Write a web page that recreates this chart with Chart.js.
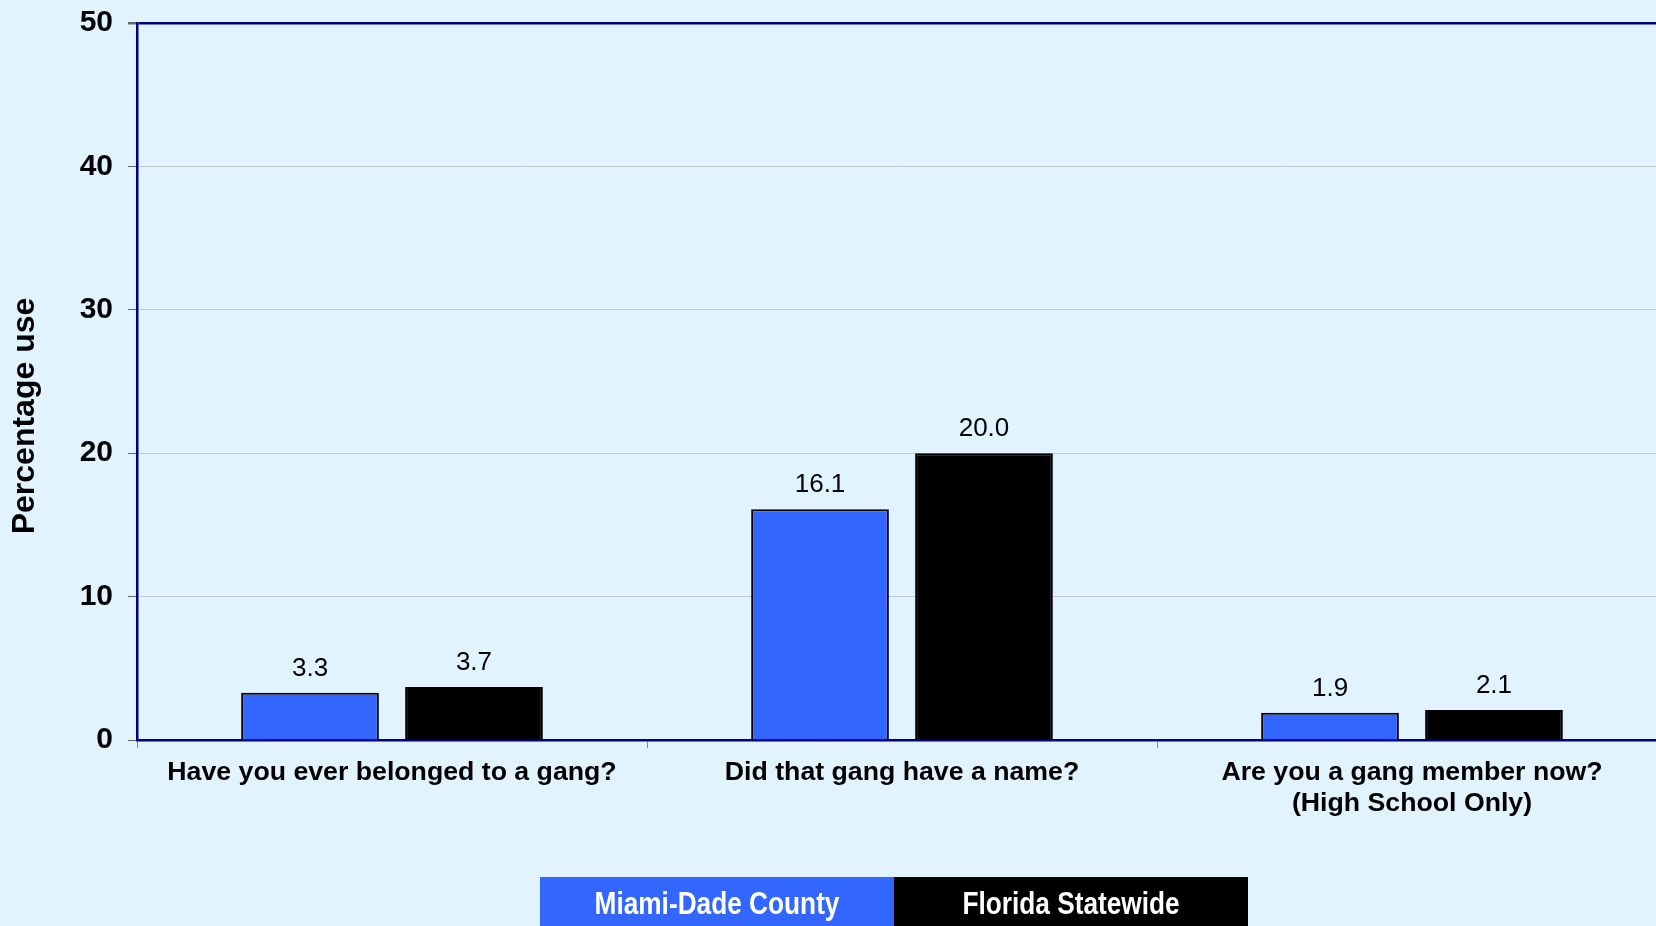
<!DOCTYPE html>
<html>
<head>
<meta charset="utf-8">
<script src="https://cdn.jsdelivr.net/npm/chart.js@4"></script>
<style>
  html, body { margin:0; padding:0; background:#E1F3FF; overflow:hidden; }
  #chart { display:block; }
</style>
</head>
<body>
<canvas id="chart" width="1680" height="926"></canvas>
<script>
const categories = [
    "Have you ever belonged to a gang?",
    "Did that gang have a name?",
    ["Are you a gang member now?", "(High School Only)"]
]
const seriesNames = ["Miami-Dade County", "Florida Statewide"]
const miamiDade = [3.3, 16.1, 1.9]
const floridaStatewide = [3.7, 20.0, 2.1]
const yTicks = [0, 10, 20, 30, 40, 50]

const navy = "#000080"
const grey = "#C4C8CC"

// value labels above the bars
const valueLabels = {
    id: "valueLabels",
    afterDatasetsDraw(chart){
        const ctx = chart.ctx
        ctx.save()
        ctx.font = "26px 'Liberation Sans', Arial, sans-serif"
        ctx.fillStyle = "#000"
        ctx.textAlign = "center"
        ctx.textBaseline = "middle"
        chart.data.datasets.forEach((ds, i) => {
            chart.getDatasetMeta(i).data.forEach((bar, j) => {
                ctx.fillText(ds.data[j].toFixed(1), bar.x, bar.y - 24)
            })
        })
        ctx.restore()
    }
}

// y title + block legend at the bottom
const extras = {
    id: "extras",
    afterDraw(chart){
        const ctx = chart.ctx
        ctx.save()
        ctx.translate(25, 416)
        ctx.rotate(-Math.PI / 2)
        ctx.font = "bold 32px 'Liberation Sans', Arial, sans-serif"
        ctx.fillStyle = "#000"
        ctx.textAlign = "center"
        ctx.textBaseline = "middle"
        ctx.fillText("Percentage use", 0, 0)
        ctx.restore()

        const boxW = 354, left = 540, top = 877
        chart.data.datasets.forEach((ds, i) => {
            const x = left + i * boxW
            ctx.save()
            ctx.fillStyle = ds.backgroundColor
            ctx.fillRect(x, top, boxW, chart.height - top)
            // condensed look: squeeze the text sideways
            ctx.translate(x + boxW / 2, 905)
            ctx.scale(0.82, 1)
            ctx.font = "bold 32px 'Liberation Sans', sans-serif"
            ctx.textAlign = "center"
            ctx.textBaseline = "middle"
            ctx.fillStyle = "#fff"
            ctx.fillText(ds.label, 0, 0)
            ctx.restore()
        })
    }
}

new Chart(document.getElementById("chart"), {
    type: "bar",
    data: {
        labels: categories,
        datasets: [
            { label: seriesNames[0], data: miamiDade, backgroundColor: "#3366FF", borderColor: "#000", borderWidth: 2 },
            { label: seriesNames[1], data: floridaStatewide, backgroundColor: "#000000", borderColor: "#000", borderWidth: 2 }
        ]
    },
    options: {
        responsive: false,
        animation: false,
        devicePixelRatio: 1,
        categoryPercentage: 0.643,
        barPercentage: 0.84,
        layout: { padding: { top: 23, right: 13, left: 0, bottom: 0 } },
        plugins: { legend: { display: false }, tooltip: { enabled: false } },
        scales: {
            x: {
                grid: { drawOnChartArea: false, tickLength: 8, tickColor: "#888", offset: true },
                border: { color: navy, width: 2.5 },
                ticks: {
                    color: "#000",
                    padding: 9,
                    maxRotation: 0,
                    autoSkip: false,
                    font: { family: "'Liberation Sans', Arial, sans-serif", size: 26.7, weight: "bold", lineHeight: 1.17 }
                },
                afterFit(scale){ scale.height = 186 }
            },
            y: {
                min: 0,
                max: 50,
                afterBuildTicks(scale){ scale.ticks = yTicks.map(v => ({ value: v })) },
                grid: {
                    color: ctx => ctx.tick.value === 50 ? navy : (ctx.tick.value === 0 ? "rgba(0,0,0,0)" : grey),
                    lineWidth: ctx => ctx.tick.value === 50 ? 2.5 : 1,
                    tickLength: 9,
                    tickColor: "#666"
                },
                border: { color: navy, width: 2.5 },
                ticks: {
                    color: "#000",
                    padding: 15,
                    font: { family: "'Liberation Sans', Arial, sans-serif", size: 30, weight: "bold" }
                },
                afterFit(scale){
                    scale.width = 137
                    scale.paddingTop = 0
                    scale.paddingBottom = 0
                }
            }
        }
    },
    plugins: [valueLabels, extras]
})
</script>
</body>
</html>
